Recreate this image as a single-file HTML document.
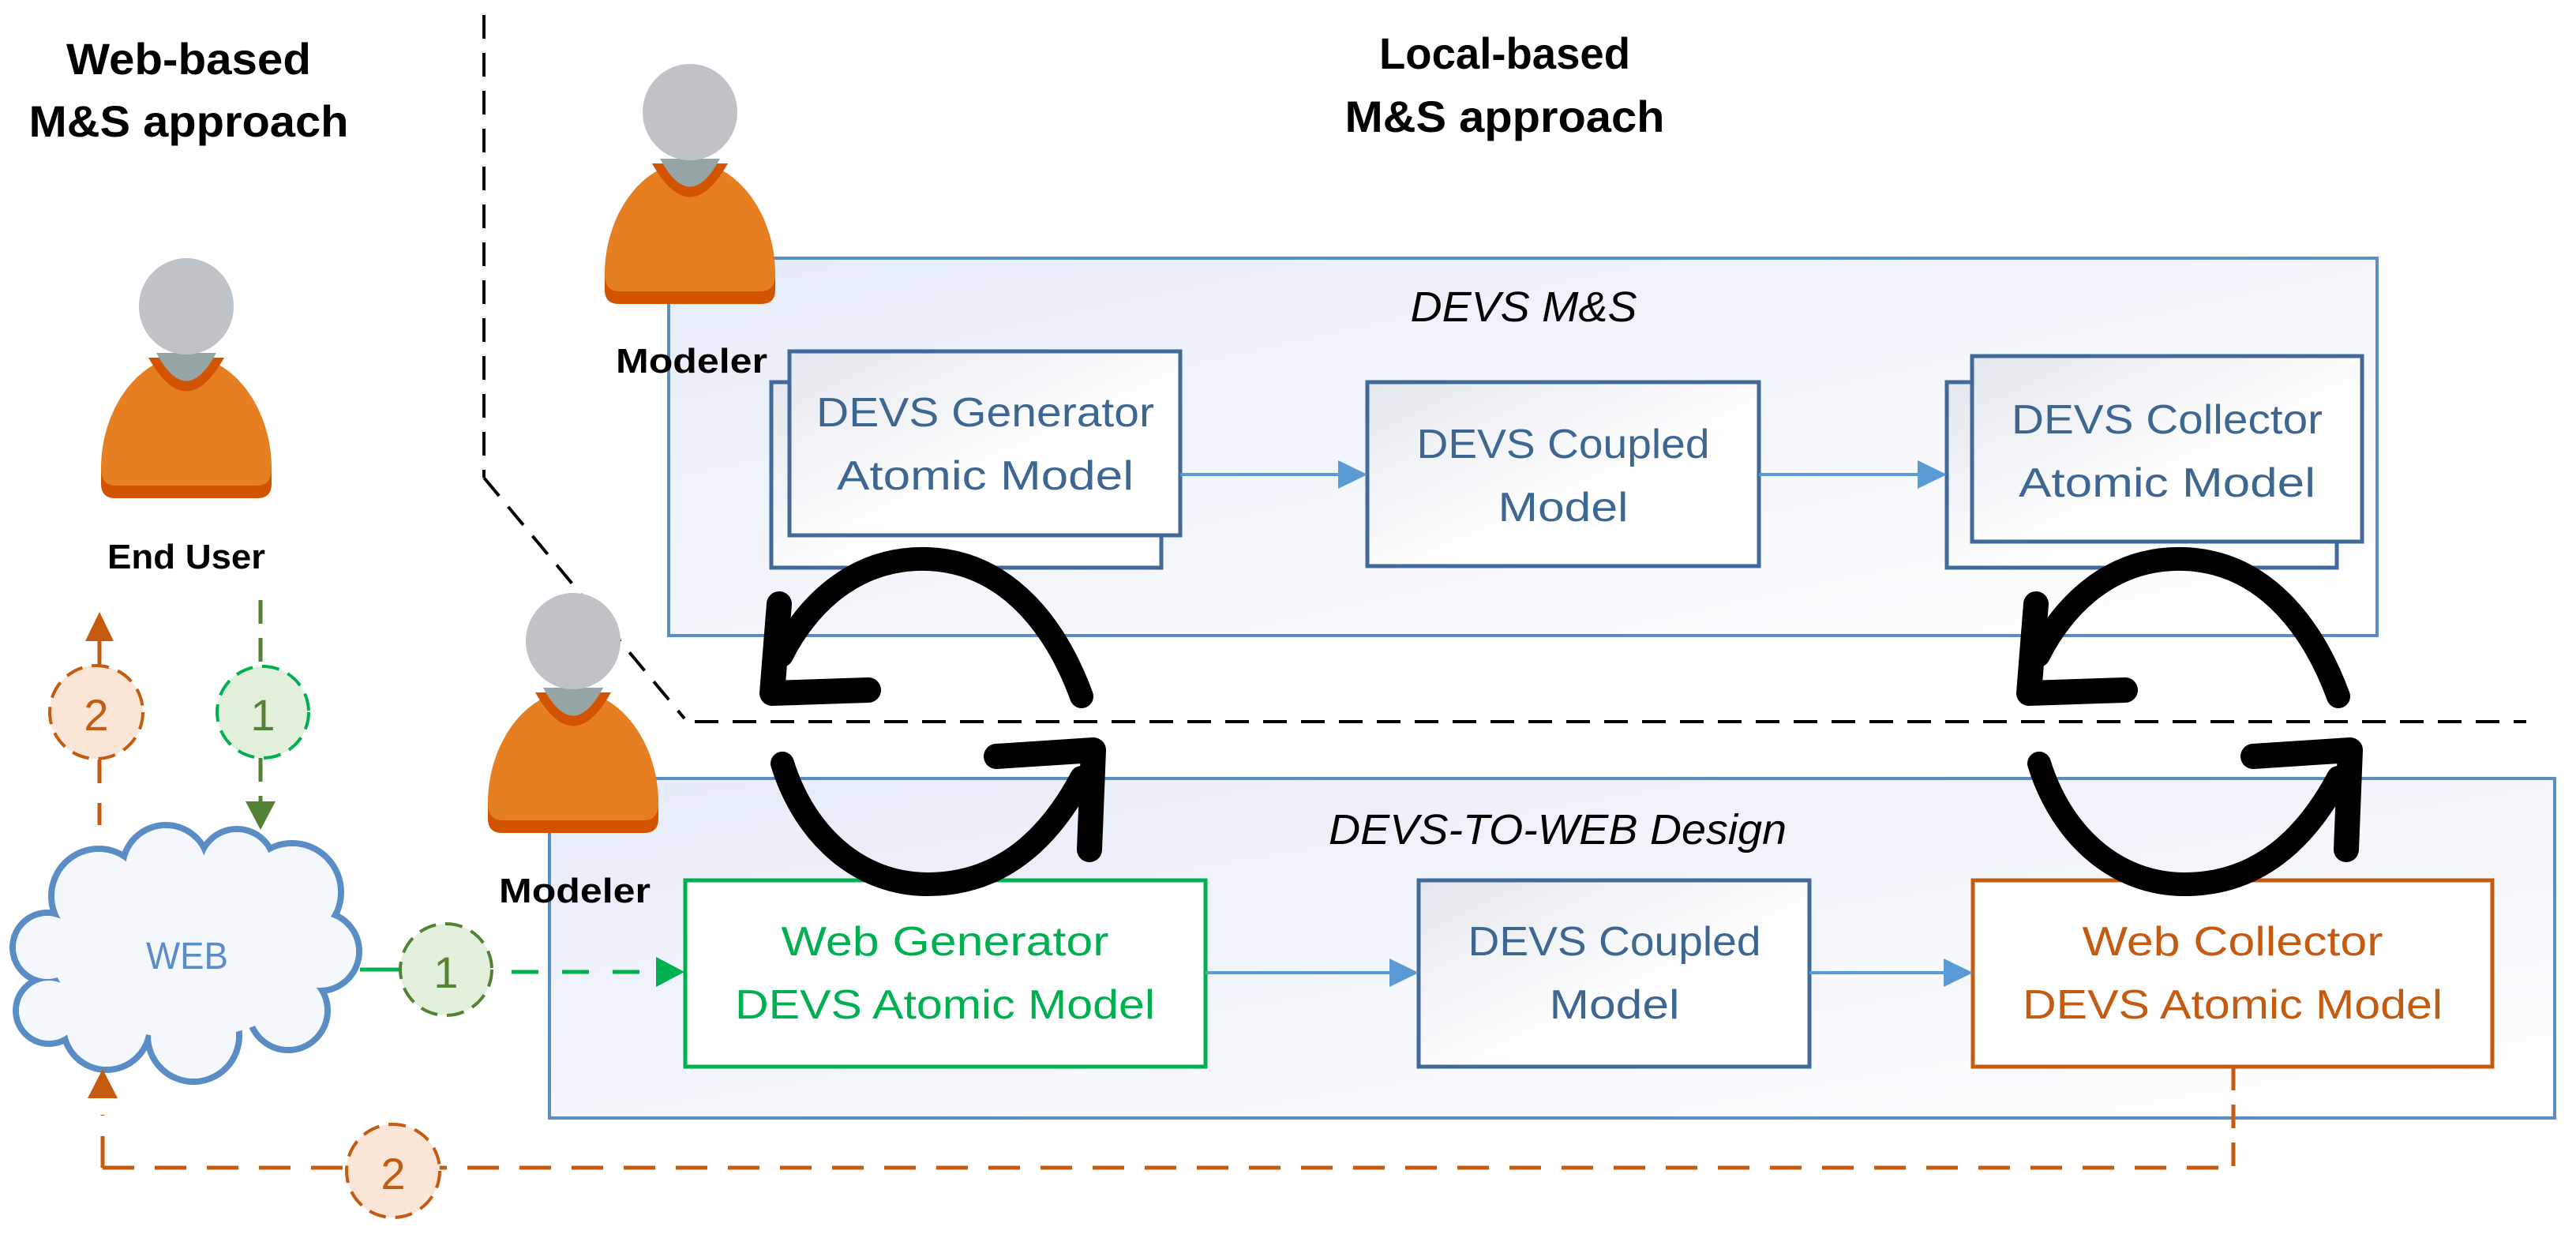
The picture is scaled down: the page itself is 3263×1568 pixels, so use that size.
<!DOCTYPE html>
<html><head><meta charset="utf-8"><style>
html,body{margin:0;padding:0;background:#fff;}
svg{display:block;}
text{font-family:"Liberation Sans",sans-serif;}
</style></head><body>
<svg width="3263" height="1568" viewBox="0 0 3263 1568" xmlns="http://www.w3.org/2000/svg">
<defs>
<linearGradient id="gOuter" x1="0" y1="0" x2="1" y2="1">
<stop offset="0" stop-color="#e6ecf7"/><stop offset="1" stop-color="#ffffff"/></linearGradient>
<linearGradient id="gBox" x1="0" y1="0" x2="1" y2="1">
<stop offset="0" stop-color="#e4e7ee"/><stop offset="0.6" stop-color="#ffffff"/></linearGradient>
<linearGradient id="gCloud" x1="0" y1="0" x2="1" y2="1">
<stop offset="0" stop-color="#e8eef8"/><stop offset="1" stop-color="#ffffff"/></linearGradient>
<g id="person">
<path d="M-108,95 C-108,20 -60,-52 0,-52 C60,-52 108,20 108,95 L108,110 Q108,128 90,128 L-90,128 Q-108,128 -108,110 Z" fill="#d35400"/>
<path d="M-108,90 C-108,15 -60,-52 0,-52 C60,-52 108,15 108,90 Q108,112 90,112 L-90,112 Q-108,112 -108,90 Z" fill="#e67e22"/>
<path d="M-48,-50 Q0,35 48,-50 Z" fill="#d35400"/>
<path d="M-38,-56 Q0,15 38,-56 Z" fill="#95a5a6"/>
<ellipse cx="0" cy="-115" rx="60" ry="61" fill="#bdc3c7"/>
</g>
<g id="cyc">
<path d="M1370,882 C1340,800 1280,712 1175,708 C1080,705 1020,770 990,830" fill="none" stroke="#000" stroke-width="30" stroke-linecap="round"/>
<path d="M987,765 L978,878 L1100,874" fill="none" stroke="#000" stroke-width="32" stroke-linecap="round" stroke-linejoin="round"/>
<path d="M991,967 C1020,1060 1090,1120 1175,1120 C1270,1120 1330,1060 1370,985" fill="none" stroke="#000" stroke-width="30" stroke-linecap="round"/>
<path d="M1262,958 L1385,950 L1380,1076" fill="none" stroke="#000" stroke-width="32" stroke-linecap="round" stroke-linejoin="round"/>
</g>
</defs>

<!-- separators -->
<line x1="613" y1="19" x2="613" y2="605" stroke="#000" stroke-width="4" stroke-dasharray="30,18"/>
<line x1="613" y1="605" x2="867" y2="910" stroke="#000" stroke-width="4" stroke-dasharray="30,18"/>
<line x1="880" y1="914" x2="3200" y2="914" stroke="#000" stroke-width="4" stroke-dasharray="30,18"/>

<!-- titles -->
<text x="239" y="94" font-size="56" font-weight="bold" text-anchor="middle" textLength="310" lengthAdjust="spacingAndGlyphs">Web-based</text>
<text x="239" y="173" font-size="56" font-weight="bold" text-anchor="middle" textLength="405" lengthAdjust="spacingAndGlyphs">M&amp;S approach</text>
<text x="1906" y="87" font-size="56" font-weight="bold" text-anchor="middle" textLength="318" lengthAdjust="spacingAndGlyphs">Local-based</text>
<text x="1906" y="167" font-size="56" font-weight="bold" text-anchor="middle" textLength="405" lengthAdjust="spacingAndGlyphs">M&amp;S approach</text>

<!-- outer boxes -->
<rect x="847" y="327" width="2164" height="478" fill="url(#gOuter)" stroke="#5a8dc5" stroke-width="4"/>
<rect x="696" y="986" width="2540" height="430" fill="url(#gOuter)" stroke="#5a8dc5" stroke-width="4"/>
<text x="1930" y="407" font-size="54" font-style="italic" text-anchor="middle" textLength="287" lengthAdjust="spacingAndGlyphs">DEVS M&amp;S</text>
<text x="1973" y="1069" font-size="54" font-style="italic" text-anchor="middle" textLength="580" lengthAdjust="spacingAndGlyphs">DEVS-TO-WEB Design</text>

<!-- top row boxes -->
<rect x="977" y="484" width="494" height="235" fill="url(#gBox)" stroke="#41699a" stroke-width="5"/>
<rect x="1000" y="445" width="495" height="233" fill="url(#gBox)" stroke="#41699a" stroke-width="5"/>
<text x="1248" y="540" font-size="52" fill="#3d6792" text-anchor="middle" textLength="428" lengthAdjust="spacingAndGlyphs">DEVS Generator</text>
<text x="1248" y="620" font-size="52" fill="#3d6792" text-anchor="middle" textLength="376" lengthAdjust="spacingAndGlyphs">Atomic Model</text>

<rect x="1732" y="484" width="496" height="233" fill="url(#gBox)" stroke="#41699a" stroke-width="5"/>
<text x="1980" y="580" font-size="52" fill="#3d6792" text-anchor="middle" textLength="371" lengthAdjust="spacingAndGlyphs">DEVS Coupled</text>
<text x="1980" y="660" font-size="52" fill="#3d6792" text-anchor="middle" textLength="165" lengthAdjust="spacingAndGlyphs">Model</text>

<rect x="2466" y="484" width="494" height="235" fill="url(#gBox)" stroke="#41699a" stroke-width="5"/>
<rect x="2498" y="451" width="494" height="235" fill="url(#gBox)" stroke="#41699a" stroke-width="5"/>
<text x="2745" y="549" font-size="52" fill="#3d6792" text-anchor="middle" textLength="394" lengthAdjust="spacingAndGlyphs">DEVS Collector</text>
<text x="2745" y="629" font-size="52" fill="#3d6792" text-anchor="middle" textLength="376" lengthAdjust="spacingAndGlyphs">Atomic Model</text>

<line x1="1495" y1="601" x2="1700" y2="601" stroke="#5b9bd5" stroke-width="4"/>
<polygon points="1732,601 1695,583 1695,619" fill="#5b9bd5"/>
<line x1="2228" y1="601" x2="2435" y2="601" stroke="#5b9bd5" stroke-width="4"/>
<polygon points="2466,601 2429,583 2429,619" fill="#5b9bd5"/>

<!-- bottom row boxes -->
<rect x="868" y="1115" width="659" height="236" fill="#fff" stroke="#00b050" stroke-width="5"/>
<text x="1197" y="1210" font-size="52" fill="#00b050" text-anchor="middle" textLength="415" lengthAdjust="spacingAndGlyphs">Web Generator</text>
<text x="1197" y="1290" font-size="52" fill="#00b050" text-anchor="middle" textLength="532" lengthAdjust="spacingAndGlyphs">DEVS Atomic Model</text>

<rect x="1797" y="1115" width="495" height="236" fill="url(#gBox)" stroke="#41699a" stroke-width="5"/>
<text x="2045" y="1210" font-size="52" fill="#3d6792" text-anchor="middle" textLength="371" lengthAdjust="spacingAndGlyphs">DEVS Coupled</text>
<text x="2045" y="1290" font-size="52" fill="#3d6792" text-anchor="middle" textLength="165" lengthAdjust="spacingAndGlyphs">Model</text>

<rect x="2499" y="1115" width="658" height="236" fill="#fff" stroke="#c55a11" stroke-width="5"/>
<text x="2828" y="1210" font-size="52" fill="#c55a11" text-anchor="middle" textLength="381" lengthAdjust="spacingAndGlyphs">Web Collector</text>
<text x="2828" y="1290" font-size="52" fill="#c55a11" text-anchor="middle" textLength="532" lengthAdjust="spacingAndGlyphs">DEVS Atomic Model</text>

<line x1="1527" y1="1232" x2="1765" y2="1232" stroke="#5b9bd5" stroke-width="4"/>
<polygon points="1797,1232 1760,1214 1760,1250" fill="#5b9bd5"/>
<line x1="2292" y1="1232" x2="2467" y2="1232" stroke="#5b9bd5" stroke-width="4"/>
<polygon points="2499,1232 2462,1214 2462,1250" fill="#5b9bd5"/>

<!-- cycle arrows -->
<use href="#cyc"/>
<use href="#cyc" transform="translate(1592,0)"/>

<!-- persons -->
<use href="#person" transform="translate(874,257)"/>
<use href="#person" transform="translate(236,503)"/>
<use href="#person" transform="translate(726,927)"/>
<text x="876" y="472" font-size="44" font-weight="bold" text-anchor="middle" textLength="192" lengthAdjust="spacingAndGlyphs">Modeler</text>
<text x="236" y="720" font-size="44" font-weight="bold" text-anchor="middle" textLength="200" lengthAdjust="spacingAndGlyphs">End User</text>
<text x="728" y="1143" font-size="44" font-weight="bold" text-anchor="middle" textLength="192" lengthAdjust="spacingAndGlyphs">Modeler</text>

<!-- cloud -->
<g stroke="#5a8dc5" stroke-width="8" fill="url(#gCloud)">
<circle cx="60" cy="1200" r="44"/><circle cx="125" cy="1135" r="60"/><circle cx="210" cy="1100" r="55"/>
<circle cx="300" cy="1098" r="48"/><circle cx="370" cy="1130" r="62"/><circle cx="405" cy="1205" r="50"/>
<circle cx="365" cy="1280" r="50"/><circle cx="245" cy="1312" r="58"/><circle cx="135" cy="1300" r="55"/><circle cx="62" cy="1280" r="42"/>
</g>
<g fill="#f4f7fc">
<circle cx="60" cy="1200" r="40"/><circle cx="125" cy="1135" r="56"/><circle cx="210" cy="1100" r="51"/>
<circle cx="300" cy="1098" r="44"/><circle cx="370" cy="1130" r="58"/><circle cx="405" cy="1205" r="46"/>
<circle cx="365" cy="1280" r="46"/><circle cx="245" cy="1312" r="54"/><circle cx="135" cy="1300" r="51"/><circle cx="62" cy="1280" r="38"/>
<ellipse cx="235" cy="1205" rx="170" ry="110"/>
</g>
<text x="237" y="1227" font-size="48" fill="#5a8dc5" text-anchor="middle" textLength="104" lengthAdjust="spacingAndGlyphs">WEB</text>

<!-- flow 1 green -->
<line x1="330" y1="760" x2="330" y2="850" stroke="#548235" stroke-width="5" stroke-dasharray="30,18"/>
<line x1="330" y1="960" x2="330" y2="1015" stroke="#548235" stroke-width="5" stroke-dasharray="30,18"/>
<polygon points="330,1051 311,1015 349,1015" fill="#548235"/>
<circle cx="333" cy="902" r="58" fill="#e2efda" stroke="#00b050" stroke-width="4" stroke-dasharray="22,12"/>
<text x="333" y="925" font-size="56" fill="#548235" text-anchor="middle">1</text>

<line x1="456" y1="1228" x2="506" y2="1228" stroke="#00b050" stroke-width="5"/>
<line x1="648" y1="1231" x2="835" y2="1231" stroke="#00b050" stroke-width="5" stroke-dasharray="34,30"/>
<polygon points="867,1231 831,1212 831,1250" fill="#00b050"/>
<circle cx="565" cy="1228" r="58" fill="#e2efda" stroke="#548235" stroke-width="4" stroke-dasharray="22,12"/>
<text x="565" y="1251" font-size="56" fill="#548235" text-anchor="middle">1</text>

<!-- flow 2 orange -->
<line x1="126" y1="812" x2="126" y2="845" stroke="#c55a11" stroke-width="5"/>
<polygon points="126,775 108,812 144,812" fill="#c55a11"/>
<line x1="126" y1="962" x2="126" y2="1045" stroke="#c55a11" stroke-width="5" stroke-dasharray="30,25"/>
<circle cx="122" cy="902" r="59" fill="#fbe5d6" stroke="#c55a11" stroke-width="4" stroke-dasharray="22,12"/>
<text x="122" y="925" font-size="56" fill="#c55a11" text-anchor="middle">2</text>

<line x1="2829" y1="1351" x2="2829" y2="1479" stroke="#c55a11" stroke-width="5" stroke-dasharray="30,18"/>
<line x1="130" y1="1479" x2="2829" y2="1479" stroke="#c55a11" stroke-width="5" stroke-dasharray="40,26"/>
<line x1="130" y1="1479" x2="130" y2="1412" stroke="#c55a11" stroke-width="5" stroke-dasharray="40,26"/>
<polygon points="130,1354 111,1391 149,1391" fill="#c55a11"/>
<circle cx="498" cy="1483" r="59" fill="#fbe5d6" stroke="#c55a11" stroke-width="4" stroke-dasharray="22,12"/>
<text x="498" y="1506" font-size="56" fill="#c55a11" text-anchor="middle">2</text>
</svg>
</body></html>
